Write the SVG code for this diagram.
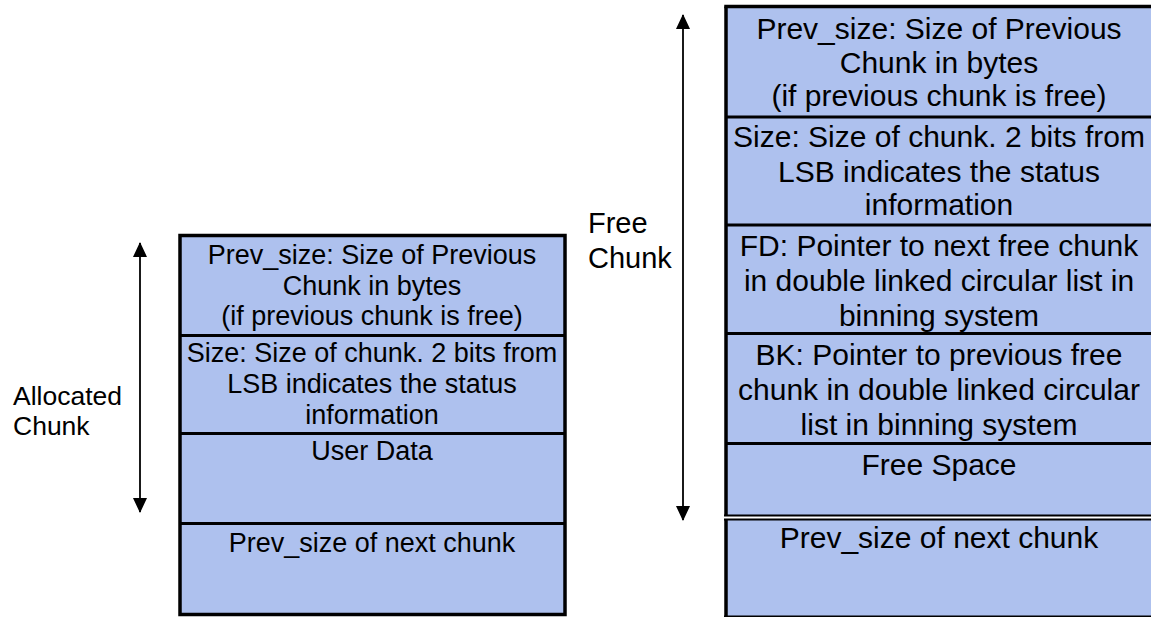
<svg xmlns="http://www.w3.org/2000/svg" width="1151" height="617" viewBox="0 0 1151 617">
<style>
.cell{fill:#AEC1EE;stroke:none}
.edge{stroke:#000;stroke-width:3.5;fill:none}
.div{stroke:#000;stroke-width:3}
.thin{stroke:#000;stroke-width:2}
.tl{font-family:"Liberation Sans",Arial,sans-serif;font-size:27px;fill:#000;text-anchor:middle}
.tr{font-family:"Liberation Sans",Arial,sans-serif;font-size:30px;fill:#000;text-anchor:middle}
.lab{font-family:"Liberation Sans",Arial,sans-serif;fill:#000}
.arr{stroke:#000;stroke-width:1.8;fill:none;marker-start:url(#ah);marker-end:url(#ah)}
</style>
<defs>
<marker id="ah" markerUnits="userSpaceOnUse" markerWidth="16" markerHeight="16" viewBox="0 0 16 16" refX="14" refY="8" orient="auto-start-reverse">
<path d="M0,1 L15,8 L0,15 Z" fill="#000"/>
</marker>
</defs>
<g id="allocated-chunk">
<rect class="cell" x="180" y="235.5" width="385" height="379"/>
<rect class="edge" x="180" y="235.5" width="385" height="379"/>
<line class="div" x1="180" y1="335.5" x2="565" y2="335.5"/>
<line class="div" x1="180" y1="433.5" x2="565" y2="433.5"/>
<line class="div" x1="180" y1="523.5" x2="565" y2="523.5"/>
<text class="tl" x="372" y="264">Prev_size: Size of Previous</text>
<text class="tl" x="372" y="295">Chunk in bytes</text>
<text class="tl" x="372" y="325">(if previous chunk is free)</text>
<text class="tl" x="372" y="362">Size: Size of chunk. 2 bits from</text>
<text class="tl" x="372" y="393">LSB indicates the status</text>
<text class="tl" x="372" y="424">information</text>
<text class="tl" x="372" y="460">User Data</text>
<text class="tl" x="372" y="552">Prev_size of next chunk</text>
</g>
<g id="free-chunk">
<rect class="cell" x="726" y="6.5" width="440" height="509"/>
<line class="edge" x1="724.25" y1="6.5" x2="1160" y2="6.5"/>
<line class="edge" x1="726" y1="6.5" x2="726" y2="516"/>
<line class="div" x1="726" y1="117" x2="1160" y2="117"/>
<line class="div" x1="726" y1="225" x2="1160" y2="225"/>
<line class="div" x1="726" y1="333.5" x2="1160" y2="333.5"/>
<line class="div" x1="726" y1="443.5" x2="1160" y2="443.5"/>
<line class="thin" x1="724" y1="515.5" x2="1160" y2="515.5"/>
<text class="tr" x="939" y="39">Prev_size: Size of Previous</text>
<text class="tr" x="939" y="73">Chunk in bytes</text>
<text class="tr" x="939" y="106">(if previous chunk is free)</text>
<text class="tr" x="939" y="147">Size: Size of chunk. 2 bits from</text>
<text class="tr" x="939" y="182">LSB indicates the status</text>
<text class="tr" x="939" y="215">information</text>
<text class="tr" x="939" y="256">FD: Pointer to next free chunk</text>
<text class="tr" x="939" y="291">in double linked circular list in</text>
<text class="tr" x="939" y="326">binning system</text>
<text class="tr" x="939" y="365">BK: Pointer to previous free</text>
<text class="tr" x="939" y="400">chunk in double linked circular</text>
<text class="tr" x="939" y="435">list in binning system</text>
<text class="tr" x="939" y="475">Free Space</text>
</g>
<g id="next-chunk">
<rect class="cell" x="726" y="519.5" width="440" height="97"/>
<line class="thin" x1="724" y1="519.5" x2="1160" y2="519.5"/>
<line class="edge" x1="726" y1="519.5" x2="726" y2="617"/>
<line class="thin" x1="724" y1="616.5" x2="1160" y2="616.5"/>
<text class="tr" x="939" y="548">Prev_size of next chunk</text>
</g>
<g id="labels">
<text class="lab" x="13" y="405" font-size="26.5">Allocated</text>
<text class="lab" x="13" y="435" font-size="26.5">Chunk</text>
<text class="lab" x="588" y="233" font-size="29">Free</text>
<text class="lab" x="588" y="268" font-size="29">Chunk</text>
</g>
<g id="connectors">
<line class="arr" x1="140" y1="243" x2="140" y2="512"/>
<line class="arr" x1="683" y1="15" x2="683" y2="520"/>
</g>
</svg>
